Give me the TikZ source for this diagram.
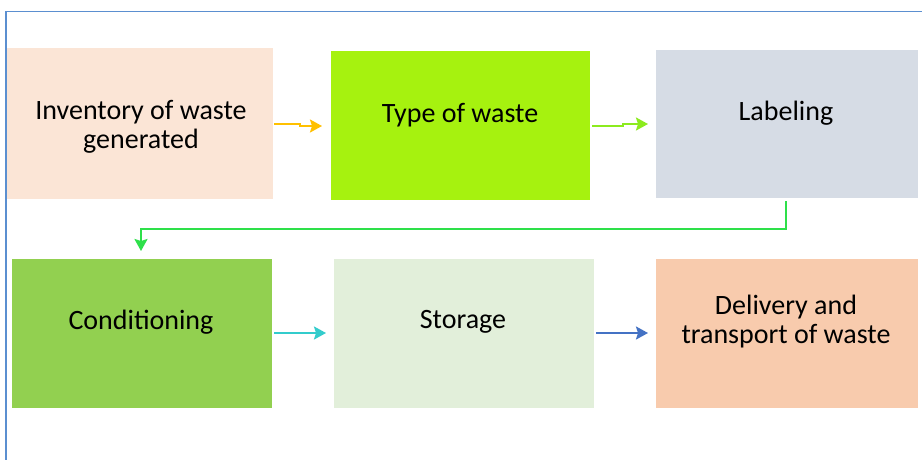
\documentclass[tikz,border=0pt]{standalone}
\usepackage{fontspec}
\setmainfont{Carlito}
\usetikzlibrary{arrows.meta}
\definecolor{cInv}{HTML}{FBE5D6}
\definecolor{cType}{HTML}{A6F20F}
\definecolor{cLab}{HTML}{D6DCE5}
\definecolor{cCond}{HTML}{92D050}
\definecolor{cStor}{HTML}{E2EFDA}
\definecolor{cDel}{HTML}{F8CBAD}
\definecolor{cFrame}{HTML}{5B8FD0}
\definecolor{aOrange}{HTML}{FFC000}
\definecolor{aLime}{HTML}{8CEB1E}
\definecolor{aGreen}{HTML}{2EE04A}
\definecolor{aTeal}{HTML}{33CCCC}
\definecolor{aBlue}{HTML}{4472C4}
\tikzset{
  box/.style={draw=none, inner sep=0pt, anchor=north west},
  txt/.style={font=\fontsize{28}{29}\selectfont, align=center, text=black},
  arr/.style={line width=2pt, -{Stealth[length=12pt,width=13pt,inset=2pt]}}
}
\begin{document}
\begin{tikzpicture}[x=1pt,y=-1pt]
\useasboundingbox (0,0) rectangle (922,459);
\fill[white] (0,0) rectangle (922,459);
\draw[cFrame, line width=1.5pt] (6,470) -- (6,11.5) -- (930,11.5);
% boxes
\node[box, fill=cInv, minimum width=266pt, minimum height=151pt] (b1) at (7,48) {};
\node[box, fill=cType, minimum width=259pt, minimum height=149pt] (b2) at (331,51) {};
\node[box, fill=cLab, minimum width=262pt, minimum height=148pt] (b3) at (656,50) {};
\node[box, fill=cCond, minimum width=260pt, minimum height=149pt] (b4) at (12,259) {};
\node[box, fill=cStor, minimum width=260pt, minimum height=149pt] (b5) at (334,259) {};
\node[box, fill=cDel, minimum width=262pt, minimum height=149pt] (b6) at (656,259) {};
% texts
\node[txt] (t1) at (141,127) {Inventory of waste\\generated};
\node[txt] (t2) at (460,115) {Type of waste};
\node[txt] (t3) at (786,113) {Labeling};
\node[txt] (t4) at (141,322) {Conditioning};
\node[txt] (t5) at (463,322) {Storage};
\node[txt] (t6) at (786,322) {Delivery and\\transport of waste};
% connectors
\coordinate (s1) at (300,124);
\coordinate (s2) at (300,126);
\draw[arr, aOrange] ([xshift=1pt]b1.east |- s1) -- (s1) -- (s2) -- ([xshift=-9pt]b2.west |- s2);
\coordinate (s3) at (623,125.5);
\coordinate (s4) at (623,124);
\draw[arr, aLime] ([xshift=2pt]b2.east |- s3) -- (s3) -- (s4) -- ([xshift=-8pt]b3.west |- s4);
\coordinate (c1) at (786,229);
\coordinate (c2) at (141,229);
\draw[arr, aGreen] ([yshift=-3pt]b3.south -| c1) -- (c1) -- (c2) -- ([yshift=8pt]b4.north -| c2);
\coordinate (s5) at (0,333);
\draw[arr, aTeal] ([xshift=2pt]b4.east |- s5) -- ([xshift=-8pt]b5.west |- s5);
\draw[arr, aBlue] ([xshift=2pt]b5.east |- s5) -- ([xshift=-8pt]b6.west |- s5);
\end{tikzpicture}
\end{document}
